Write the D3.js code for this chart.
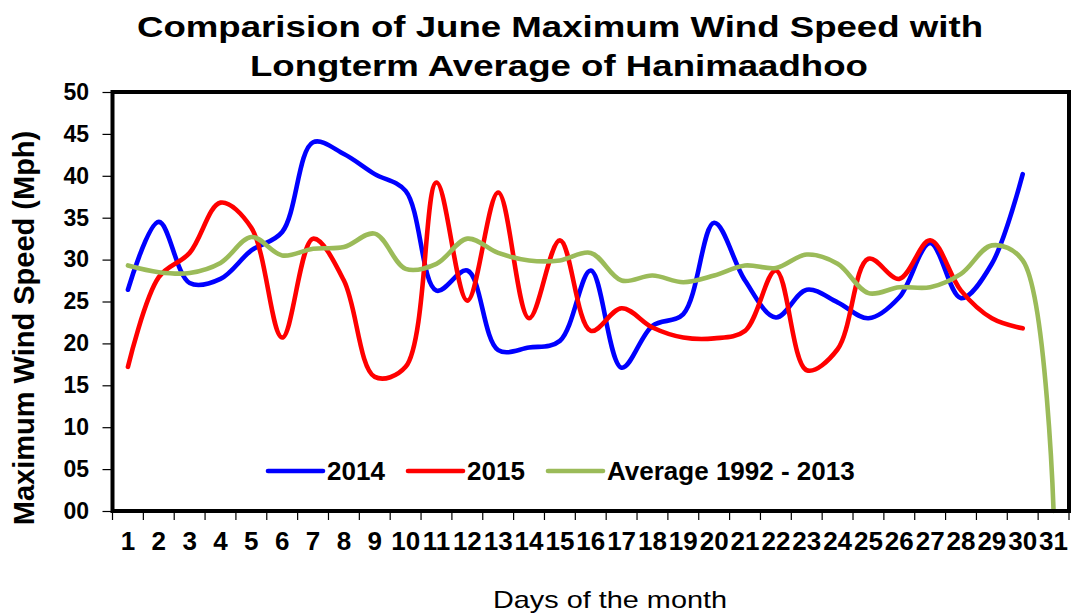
<!DOCTYPE html>
<html>
<head>
<meta charset="utf-8">
<script src="https://cdn.jsdelivr.net/npm/d3@7"></script>
<style>
  body { margin: 0; background: #fff; }
  svg text { font-family: "Liberation Sans", Arial, sans-serif; fill: #000; }
</style>
</head>
<body>
<svg id="chart" width="1072" height="616"></svg>
<script>
// days of June
var days = d3.range(1, 32);
var yTicks = [0, 5, 10, 15, 20, 25, 30, 35, 40, 45, 50];

var wind2014 = [26.4, 34.5, 27.2, 27.7, 31.1, 33.3, 44.0, 42.6, 40.2, 38.2,
                26.3, 28.7, 19.2, 19.5, 20.3, 28.7, 17.1, 22.1, 23.5, 34.4,
                27.5, 23.1, 26.4, 24.9, 23.0, 25.5, 32.0, 25.4, 29.5, 40.2];
var wind2015 = [17.2, 27.9, 30.8, 36.8, 33.8, 20.7, 32.5, 27.5, 16.0, 17.2,
                39.2, 25.1, 38.0, 23.0, 32.3, 21.5, 24.2, 21.9, 20.7, 20.6,
                21.5, 28.7, 16.8, 19.3, 30.1, 27.7, 32.3, 26.3, 23.0, 21.8];
var windAverage = [29.3, 28.5, 28.4, 29.6, 32.7, 30.5, 31.3, 31.5, 33.1, 28.9,
                   29.5, 32.5, 30.8, 29.9, 29.9, 30.8, 27.5, 28.1, 27.3, 28.1,
                   29.3, 29.0, 30.6, 29.5, 26.0, 26.7, 26.7, 28.3, 31.7, 29.9, 0];

var seriesNames = ["2014", "2015", "Average 1992 - 2013"];
var seriesColors = ["#0000ff", "#ff0000", "#9bbb59"];
var seriesValues = [wind2014, wind2015, windAverage];

draw();

function draw() {
    var svg = d3.select("#chart"),
        plotLeft = 112.5, plotRight = 1069, plotTop = 92, plotBottom = 511;

    var x = d3.scaleBand().domain(days).range([plotLeft, plotRight]).paddingInner(0).paddingOuter(0);
    var y = d3.scaleLinear().domain([0, 50]).range([plotBottom, plotTop]);

    // title
    var title = svg.append("g").attr("font-weight", "bold").attr("font-size", 30).attr("text-anchor", "middle");
    title.append("text").attr("x", 560).attr("y", 37)
         .attr("textLength", 846).attr("lengthAdjust", "spacingAndGlyphs")
         .text("Comparision of June Maximum Wind Speed with");
    title.append("text").attr("x", 559).attr("y", 76)
         .attr("textLength", 618).attr("lengthAdjust", "spacingAndGlyphs")
         .text("Longterm Average of Hanimaadhoo");

    // y axis
    var yAxis = svg.append("g")
        .attr("transform", "translate(" + plotLeft + ",0)")
        .call(d3.axisLeft(y).tickValues(yTicks).tickSize(10).tickPadding(13.5).tickFormat(d3.format("02d")));
    yAxis.select(".domain").remove();
    yAxis.selectAll("line").attr("stroke", "#000").attr("stroke-width", 1.2);
    yAxis.selectAll("text").attr("font-size", 23).attr("font-weight", "bold")
         .attr("font-family", "Liberation Sans, Arial, sans-serif");

    // x axis: labels at band centres, ticks at band edges
    var xAxis = svg.append("g")
        .attr("transform", "translate(0," + plotBottom + ")")
        .call(d3.axisBottom(x).tickSize(0).tickPadding(21));
    xAxis.select(".domain").remove();
    xAxis.selectAll("text").attr("font-size", 26).attr("font-weight", "bold")
         .attr("font-family", "Liberation Sans, Arial, sans-serif");
    svg.append("g").selectAll("line")
        .data(days.concat([32]))
        .enter().append("line")
            .attr("x1", function(d) { return d > 31 ? plotRight : x(d); })
            .attr("x2", function(d) { return d > 31 ? plotRight : x(d); })
            .attr("y1", plotBottom)
            .attr("y2", plotBottom + 9)
            .attr("stroke", "#000")
            .attr("stroke-width", 1.2);

    // smoothed lines (centripetal catmull-rom keeps the overshoot down, like excel)
    var line = d3.line()
        .x(function(d, i) { return x(days[i]) + x.bandwidth() / 2; })
        .y(function(d) { return y(d); })
        .curve(d3.curveCatmullRom.alpha(0.5));

    svg.append("g").selectAll("path")
        .data(seriesValues)
        .enter().append("path")
            .attr("d", line)
            .attr("fill", "none")
            .attr("stroke", function(d, i) { return seriesColors[i]; })
            .attr("stroke-width", 4.6)
            .attr("stroke-linecap", "round")
            .attr("stroke-linejoin", "round");

    // plot frame
    svg.append("rect")
        .attr("x", plotLeft).attr("y", plotTop)
        .attr("width", plotRight - plotLeft).attr("height", plotBottom - plotTop)
        .attr("fill", "none").attr("stroke", "#000").attr("stroke-width", 4);

    // legend
    var legend = svg.append("g").selectAll("g")
        .data(seriesNames)
        .enter().append("g")
            .attr("transform", function(d, i) { return "translate(" + (268 + i * 140) + ",471)"; });
    legend.append("line")
        .attr("x1", 0).attr("x2", 55)
        .attr("stroke", function(d, i) { return seriesColors[i]; })
        .attr("stroke-width", 4.6)
        .attr("stroke-linecap", "round");
    legend.append("text")
        .attr("x", 59).attr("y", 9)
        .attr("font-size", 26).attr("font-weight", "bold")
        .text(function(d) { return d; });

    // axis titles
    svg.append("text")
        .attr("transform", "translate(34,328) rotate(-90)")
        .attr("text-anchor", "middle")
        .attr("font-size", 29).attr("font-weight", "bold")
        .text("Maximum Wind Speed (Mph)");
    svg.append("text")
        .attr("x", 610).attr("y", 608)
        .attr("text-anchor", "middle")
        .attr("font-size", 24)
        .attr("textLength", 234).attr("lengthAdjust", "spacingAndGlyphs")
        .text("Days of the month");
}
</script>
</body>
</html>
